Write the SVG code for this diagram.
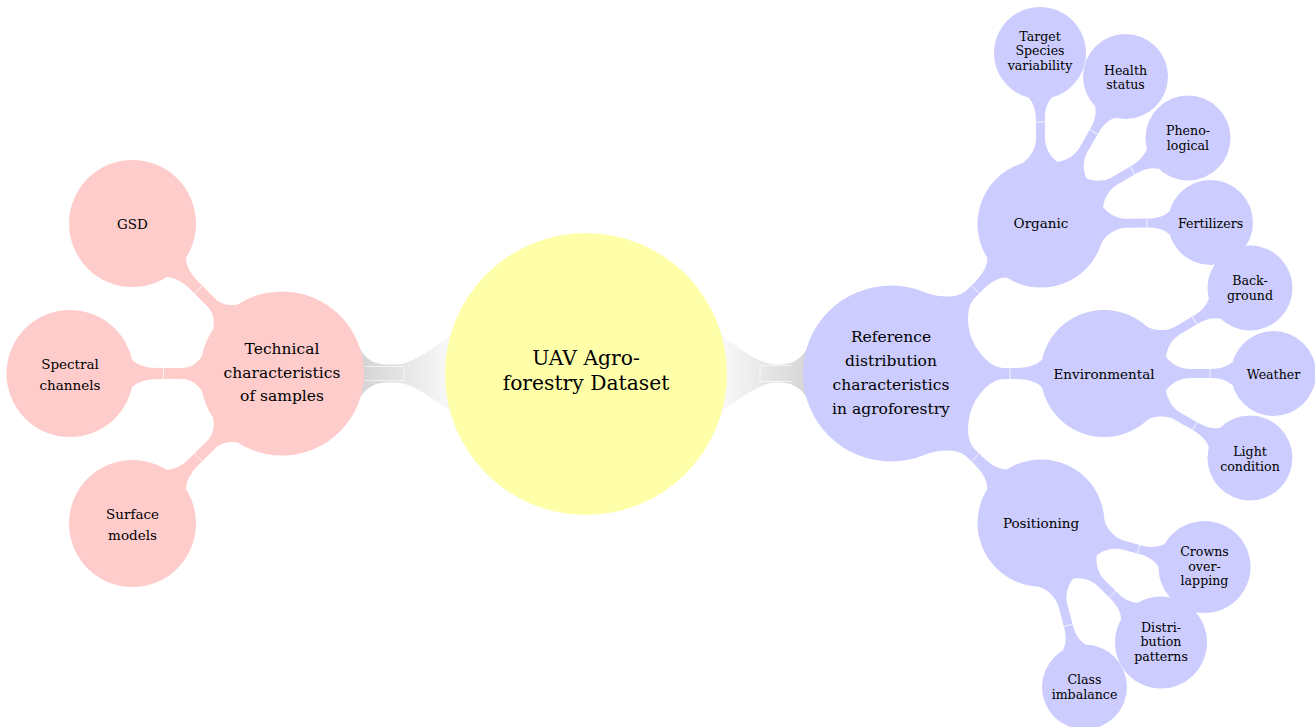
<svg xmlns="http://www.w3.org/2000/svg" width="1315" height="727" viewBox="0 0 1315 727">
<defs>
<linearGradient id="fade" gradientUnits="userSpaceOnUse" x1="140" y1="0" x2="224" y2="0">
<stop offset="0" stop-color="#f7f7f7"/>
<stop offset="1" stop-color="#d4d4d4"/>
</linearGradient>
</defs>
<style>
.root{fill:#ffffaa}
.pk{fill:#ffcccc}
.bl{fill:#ccccff}
.gray{fill:url(#fade)}
.tick{stroke:#ffffff;stroke-width:0.9;fill:none;stroke-opacity:0.85}
.bar{stroke:#ffffff;stroke-width:0.8;fill:none;stroke-opacity:0.8}
text{font-family:"DejaVu Serif","Liberation Serif",serif;fill:#000000;text-anchor:middle}
.t0{font-size:20.3px}
.t1{font-size:15.5px}
.t2{font-size:13.5px}
.t3{font-size:12.6px}
</style>
<rect width="1315" height="727" fill="#ffffff"/>
<g id="connectors">
  <g transform="translate(586,373.5) rotate(180)">
    <path class="gray" d="M136.06,37 C148,30 172,9 190,9 L197.6,9 C209.6,9 219.6,13 225.6,24 L225.6,-24 C219.6,-13 209.6,-9 197.6,-9 L190,-9 C172,-9 148,-30 136.06,-37 Z"/>
    <path class="bar" d="M221,-7 H181.7 V7 H221"/>
  </g>
  <g transform="translate(586,373.5)">
    <path class="gray" d="M136.06,37 C148,30 172,9 190,9 L192.34,9 C204.34,9 214.34,13 220.34,24 L220.34,-24 C214.34,-13 204.34,-9 192.34,-9 L190,-9 C172,-9 148,-30 136.06,-37 Z"/>
    <path class="bar" d="M206,-8 H174 V8 H206"/>
  </g>
  <g transform="translate(282,373.5) rotate(-134.9)">
    <path class="pk" d="M69.82,43 C74,20 86,5.5 100,5.5 L123.86,5.5 C135.86,5.5 144.86,8.5 149.86,14 L149.86,-14 C144.86,-8.5 135.86,-5.5 123.86,-5.5 L100,-5.5 C86,-5.5 74,-20 69.82,-43 Z"/>
    <path class="tick" d="M118.5,-5.5 V5.5"/>
  </g>
  <g transform="translate(282,373.5) rotate(180)">
    <path class="pk" d="M69.82,43 C74,20 86,5.5 100,5.5 L124.06,5.5 C136.06,5.5 145.06,8.5 150.06,14 L150.06,-14 C145.06,-8.5 136.06,-5.5 124.06,-5.5 L100,-5.5 C86,-5.5 74,-20 69.82,-43 Z"/>
    <path class="tick" d="M118.5,-5.5 V5.5"/>
  </g>
  <g transform="translate(282,373.5) rotate(134.9)">
    <path class="pk" d="M69.82,43 C74,20 86,5.5 100,5.5 L123.86,5.5 C135.86,5.5 144.86,8.5 149.86,14 L149.86,-14 C144.86,-8.5 135.86,-5.5 123.86,-5.5 L100,-5.5 C86,-5.5 74,-20 69.82,-43 Z"/>
    <path class="tick" d="M118.5,-5.5 V5.5"/>
  </g>
  <g transform="translate(891,373.5) rotate(-44.9)">
    <path class="bl" d="M76.78,43 C83,26 97,5.5 113,5.5 L123.86,5.5 C135.86,5.5 144.86,8.5 149.86,14 L149.86,-14 C144.86,-8.5 135.86,-5.5 123.86,-5.5 L113,-5.5 C97,-5.5 83,-26 76.78,-43 Z"/>
    <path class="tick" d="M119,-5.5 V5.5"/>
  </g>
  <g transform="translate(891,373.5)">
    <path class="bl" d="M76.78,43 C83,26 97,5.5 113,5.5 L125.06,5.5 C137.06,5.5 146.06,8.5 151.06,14 L151.06,-14 C146.06,-8.5 137.06,-5.5 125.06,-5.5 L113,-5.5 C97,-5.5 83,-26 76.78,-43 Z"/>
    <path class="tick" d="M119,-5.5 V5.5"/>
  </g>
  <g transform="translate(891,373.5) rotate(44.9)">
    <path class="bl" d="M76.78,43 C83,26 97,5.5 113,5.5 L123.86,5.5 C135.86,5.5 144.86,8.5 149.86,14 L149.86,-14 C144.86,-8.5 135.86,-5.5 123.86,-5.5 L113,-5.5 C97,-5.5 83,-26 76.78,-43 Z"/>
    <path class="tick" d="M119,-5.5 V5.5"/>
  </g>
  <g transform="translate(1041,224) rotate(-90.34)">
    <path class="bl" d="M60.27,20 C63,13 74,4.5 85,4.5 L104.59,4.5 C114.59,4.5 122.59,7.5 126.59,12 L126.59,-12 C122.59,-7.5 114.59,-4.5 104.59,-4.5 L85,-4.5 C74,-4.5 63,-13 60.27,-20 Z"/>
    <path class="tick" d="M102,-4.5 V4.5"/>
  </g>
  <g transform="translate(1041,224) rotate(-60.2)">
    <path class="bl" d="M60.27,20 C63,13 74,4.5 85,4.5 L107.23,4.5 C117.23,4.5 125.23,7.5 129.23,12 L129.23,-12 C125.23,-7.5 117.23,-4.5 107.23,-4.5 L85,-4.5 C74,-4.5 63,-13 60.27,-20 Z"/>
    <path class="tick" d="M106,-4.5 V4.5"/>
  </g>
  <g transform="translate(1041,224) rotate(-30.33)">
    <path class="bl" d="M60.27,20 C63,13 74,4.5 85,4.5 L107.53,4.5 C117.53,4.5 125.53,7.5 129.53,12 L129.53,-12 C125.53,-7.5 117.53,-4.5 107.53,-4.5 L85,-4.5 C74,-4.5 63,-13 60.27,-20 Z"/>
    <path class="tick" d="M106,-4.5 V4.5"/>
  </g>
  <g transform="translate(1041,224) rotate(-0.5)">
    <path class="bl" d="M60.27,20 C63,13 74,4.5 85,4.5 L106.73,4.5 C116.73,4.5 124.73,7.5 128.73,12 L128.73,-12 C124.73,-7.5 116.73,-4.5 106.73,-4.5 L85,-4.5 C74,-4.5 63,-13 60.27,-20 Z"/>
    <path class="tick" d="M106,-4.5 V4.5"/>
  </g>
  <g transform="translate(1104,373.5) rotate(-30.36)">
    <path class="bl" d="M60.27,20 C63,13 74,4.5 85,4.5 L106.43,4.5 C116.43,4.5 124.43,7.5 128.43,12 L128.43,-12 C124.43,-7.5 116.43,-4.5 106.43,-4.5 L85,-4.5 C74,-4.5 63,-13 60.27,-20 Z"/>
    <path class="tick" d="M105,-4.5 V4.5"/>
  </g>
  <g transform="translate(1104,373.5)">
    <path class="bl" d="M60.27,20 C63,13 74,4.5 85,4.5 L106.73,4.5 C116.73,4.5 124.73,7.5 128.73,12 L128.73,-12 C124.73,-7.5 116.73,-4.5 106.73,-4.5 L85,-4.5 C74,-4.5 63,-13 60.27,-20 Z"/>
    <path class="tick" d="M106,-4.5 V4.5"/>
  </g>
  <g transform="translate(1104,373.5) rotate(30.06)">
    <path class="bl" d="M60.27,20 C63,13 74,4.5 85,4.5 L106.43,4.5 C116.43,4.5 124.43,7.5 128.43,12 L128.43,-12 C124.43,-7.5 116.43,-4.5 106.43,-4.5 L85,-4.5 C74,-4.5 63,-13 60.27,-20 Z"/>
    <path class="tick" d="M105,-4.5 V4.5"/>
  </g>
  <g transform="translate(1041,523) rotate(15.06)">
    <path class="bl" d="M60.27,20 C63,13 74,4.5 85,4.5 L102.89,4.5 C112.89,4.5 120.89,7.5 124.89,12 L124.89,-12 C120.89,-7.5 112.89,-4.5 102.89,-4.5 L85,-4.5 C74,-4.5 63,-13 60.27,-20 Z"/>
    <path class="tick" d="M101,-4.5 V4.5"/>
  </g>
  <g transform="translate(1041,523) rotate(44.9)">
    <path class="bl" d="M60.27,20 C63,13 74,4.5 85,4.5 L102.99,4.5 C112.99,4.5 120.99,7.5 124.99,12 L124.99,-12 C120.99,-7.5 112.99,-4.5 102.99,-4.5 L85,-4.5 C74,-4.5 63,-13 60.27,-20 Z"/>
    <path class="tick" d="M101,-4.5 V4.5"/>
  </g>
  <g transform="translate(1041,523) rotate(75.1)">
    <path class="bl" d="M60.27,20 C63,13 74,4.5 85,4.5 L106.93,4.5 C116.93,4.5 124.93,7.5 128.93,12 L128.93,-12 C124.93,-7.5 116.93,-4.5 106.93,-4.5 L85,-4.5 C74,-4.5 63,-13 60.27,-20 Z"/>
    <path class="tick" d="M106,-4.5 V4.5"/>
  </g>
</g>

<g id="root-node">
  <circle class="root" cx="586" cy="374" r="141"/>
  <text class="t0"><tspan x="586" y="364.5">UAV Agro-</tspan><tspan x="586" y="389.5">forestry Dataset</tspan></text>
</g>

<g id="technical">
  <circle class="pk" cx="282" cy="373.5" r="82"/>
  <text class="t1"><tspan x="282" y="353.8">Technical</tspan><tspan x="282" y="377.6">characteristics</tspan><tspan x="282" y="401.4">of samples</tspan></text>
</g>
<g id="gsd">
  <circle class="pk" cx="132.5" cy="223.5" r="63.5"/>
  <text class="t2" x="132.5" y="229">GSD</text>
</g>
<g id="spectral">
  <circle class="pk" cx="70" cy="373.5" r="63.5"/>
  <text class="t2"><tspan x="70" y="369.3">Spectral</tspan><tspan x="70" y="390">channels</tspan></text>
</g>
<g id="surface">
  <circle class="pk" cx="132.5" cy="523.5" r="63.5"/>
  <text class="t2"><tspan x="132.5" y="519.3">Surface</tspan><tspan x="132.5" y="540">models</tspan></text>
</g>

<g id="reference">
  <circle class="bl" cx="891" cy="373.5" r="88"/>
  <text class="t1"><tspan x="891" y="342.3">Reference</tspan><tspan x="891" y="366.2">distribution</tspan><tspan x="891" y="390.1">characteristics</tspan><tspan x="891" y="414">in agroforestry</tspan></text>
</g>
<g id="organic">
  <circle class="bl" cx="1041" cy="224" r="63.5"/>
  <text class="t2" x="1041" y="227.5">Organic</text>
</g>
<g id="environmental">
  <circle class="bl" cx="1104" cy="373.5" r="63.5"/>
  <text class="t2" x="1104" y="379">Environmental</text>
</g>
<g id="positioning">
  <circle class="bl" cx="1041" cy="523" r="63.5"/>
  <text class="t2" x="1041" y="528.3">Positioning</text>
</g>

<g id="target-species">
  <circle class="bl" cx="1040" cy="53" r="46"/>
  <text class="t3"><tspan x="1040" y="40.5">Target</tspan><tspan x="1040" y="55.2">Species</tspan><tspan x="1040" y="69.9">variability</tspan></text>
</g>
<g id="health-status">
  <circle class="bl" cx="1125.5" cy="76.5" r="42.5"/>
  <text class="t3"><tspan x="1125.5" y="74.5">Health</tspan><tspan x="1125.5" y="89.2">status</tspan></text>
</g>
<g id="phenological">
  <circle class="bl" cx="1188" cy="138" r="42.5"/>
  <text class="t3"><tspan x="1188" y="135.3">Pheno-</tspan><tspan x="1188" y="150">logical</tspan></text>
</g>
<g id="fertilizers">
  <circle class="bl" cx="1210.5" cy="222.5" r="42.5"/>
  <text class="t3" x="1210.5" y="228">Fertilizers</text>
</g>
<g id="background">
  <circle class="bl" cx="1250" cy="288" r="42.5"/>
  <text class="t3"><tspan x="1250" y="285">Back-</tspan><tspan x="1250" y="299.5">ground</tspan></text>
</g>
<g id="weather">
  <circle class="bl" cx="1273.5" cy="373.5" r="42.5"/>
  <text class="t3" x="1273.5" y="379">Weather</text>
</g>
<g id="light-condition">
  <circle class="bl" cx="1250" cy="458" r="42.5"/>
  <text class="t3"><tspan x="1250" y="456">Light</tspan><tspan x="1250" y="470.7">condition</tspan></text>
</g>
<g id="crowns-overlapping">
  <circle class="bl" cx="1204.5" cy="567" r="46"/>
  <text class="t3"><tspan x="1204.5" y="556">Crowns</tspan><tspan x="1204.5" y="570.7">over-</tspan><tspan x="1204.5" y="585.4">lapping</tspan></text>
</g>
<g id="distribution-patterns">
  <circle class="bl" cx="1161" cy="642.5" r="46"/>
  <text class="t3"><tspan x="1161" y="631.7">Distri-</tspan><tspan x="1161" y="646.4">bution</tspan><tspan x="1161" y="661.1">patterns</tspan></text>
</g>
<g id="class-imbalance">
  <circle class="bl" cx="1084.5" cy="687" r="42.5"/>
  <text class="t3"><tspan x="1084.5" y="684.3">Class</tspan><tspan x="1084.5" y="699">imbalance</tspan></text>
</g>
</svg>
